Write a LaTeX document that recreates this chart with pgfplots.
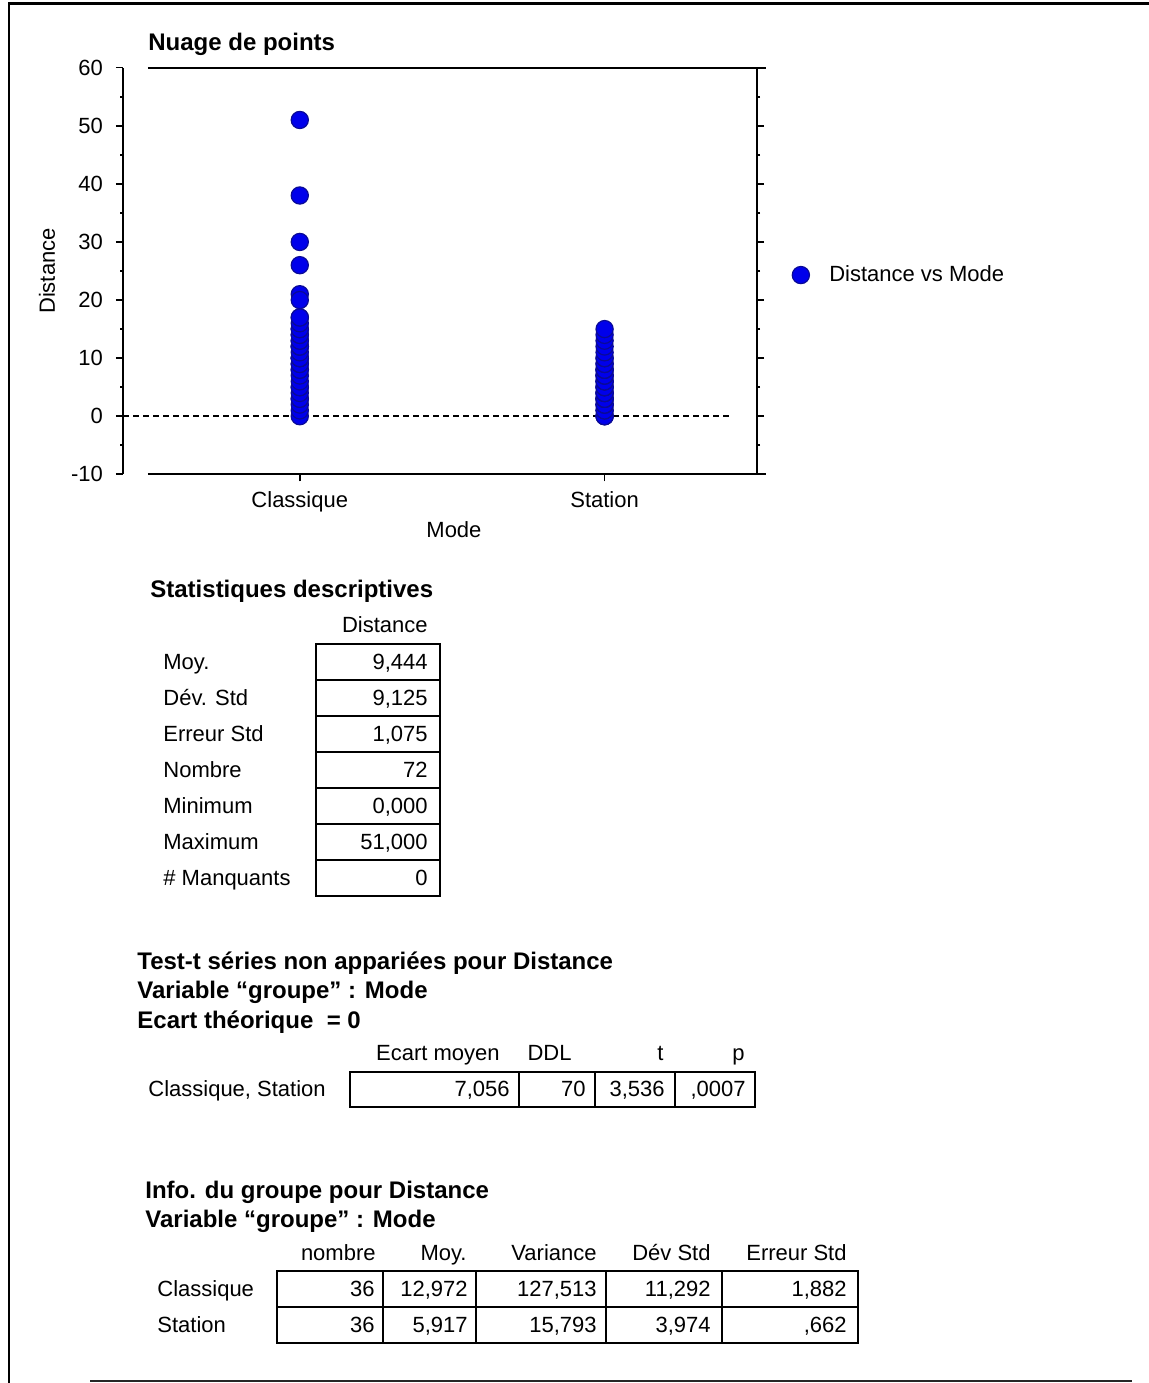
\documentclass[border=0pt]{standalone}
\usepackage{fontspec}
\setmainfont{Liberation Sans}
\usepackage{pgfplots}
\pgfplotsset{compat=1.18}
\definecolor{dotfill}{RGB}{0,0,235}
\definecolor{dotdraw}{RGB}{10,10,150}
\newcommand{\rgf}{\fontsize{11}{13}\selectfont}
\newcommand{\hdf}{\bfseries\fontsize{12}{14}\selectfont}
\pgfplotsset{dotlegend/.style={legend image code/.code={\draw[##1] plot coordinates {(0pt,0pt)}; \path (-4pt,0pt) (12pt,0pt);}}}
\begin{document}
\begin{tikzpicture}
\path[use as bounding box] (0,0) rectangle (574.5pt,691.5pt);
\begin{axis}[
  at={(61.5pt,454.35pt)}, anchor=south west,
  scale only axis, width=317pt, height=203.3pt,
  xmin=-0.58, xmax=1.5, ymin=-10, ymax=60,
  clip=false,
  separate axis lines,
  x axis line style={draw=none},
  y axis line style={black, line width=1pt},
  xtick={0,1}, xticklabels={Classique,Station},
  ytick={-10,0,...,60}, minor ytick={-5,5,...,55},
  tick align=outside,
  ytick pos=both, yticklabel pos=left,
  xtick pos=bottom,
  major tick length=3.5pt, minor tick length=1.5pt,
  tick style={black, line width=0.8pt},
  /pgf/number format/assume math mode=true,
  ticklabel style={font=\rgf},
  yticklabel style={xshift=-3pt},
  xticklabel style={yshift=-1.5pt},
  xlabel={Mode}, ylabel={Distance},
  every axis x label/.style={at={(axis description cs:0.522,-0.137)}, anchor=center, font=\rgf},
  every axis y label/.style={at={(axis description cs:-0.12,0.5)}, rotate=90, anchor=center, font=\rgf},
  legend style={draw=none, fill=none, inner sep=0pt, at={(axis description cs:1.055,0.490)}, anchor=west, font=\rgf},
  dotlegend,
]
\addplot[black, dashed, dash pattern=on 3pt off 2pt, line width=0.8pt, forget plot] coordinates {(-0.58,0) (1.41,0)};
\addplot[only marks, mark=*, mark size=4.3pt, mark options={fill=dotfill, draw=dotdraw, line width=0.6pt}]
 table[row sep=\\] {
 x y\\
 0 51\\ 0 38\\ 0 30\\ 0 26\\ 0 21\\ 0 20\\
 0 0\\ 0 1\\ 0 2\\ 0 3\\ 0 3\\ 0 4\\ 0 5\\ 0 5\\ 0 6\\ 0 7\\
 0 8\\ 0 8\\ 0 9\\ 0 9\\ 0 10\\ 0 10\\ 0 10\\ 0 11\\ 0 12\\ 0 12\\
 0 12\\ 0 13\\ 0 13\\ 0 14\\ 0 14\\ 0 15\\ 0 15\\ 0 16\\ 0 17\\ 0 17\\
 1 0\\ 1 0\\ 1 0\\ 1 1\\ 1 1\\ 1 2\\ 1 2\\ 1 2\\ 1 3\\ 1 3\\
 1 3\\ 1 3\\ 1 4\\ 1 4\\ 1 4\\ 1 5\\ 1 5\\ 1 5\\ 1 6\\ 1 6\\
 1 6\\ 1 7\\ 1 7\\ 1 7\\ 1 8\\ 1 8\\ 1 8\\ 1 9\\ 1 9\\ 1 10\\
 1 10\\ 1 11\\ 1 12\\ 1 13\\ 1 14\\ 1 15\\
 };
\addlegendentry{Distance vs Mode}
\draw[black, line width=1pt] (axis cs:-0.498,60) -- (axis cs:1.528,60);
\draw[black, line width=1pt] (axis cs:-0.498,-10) -- (axis cs:1.528,-10);
\end{axis}
\begin{scope}[shift={(0,691.5pt)}, x=0.5pt, y=-0.5pt]
% frame
\draw[line width=1.5pt] (8,4) -- (1149,4);
\draw[line width=1pt] (9,3) -- (9,1383);
\draw[line width=1pt, black!85] (90,1381) -- (1132,1381);
% plot title
\node[anchor=base west, inner sep=0, font=\hdf] at (148,51) {Nuage de points};
% Table 1
\node[anchor=base west, inner sep=0, font=\hdf] at (150,598) {Statistiques descriptives};
\node[anchor=base east, inner sep=0, font=\rgf] at (428,633) {Distance};
\draw[line width=0.7pt] (316,644) rectangle (440,896);
\foreach \yy in {680,716,752,788,824,860} \draw[line width=0.7pt] (316,\yy) -- (440,\yy);
\foreach \lab/\val/\yy in {Moy./{9,444}/670, Dév. Std/{9,125}/706, Erreur Std/{1,075}/742, Nombre/72/778, Minimum/{0,000}/814, Maximum/{51,000}/850, \# Manquants/0/886}{
  \node[anchor=base west, inner sep=0, font=\rgf] at (163,\yy) {\lab};
  \node[anchor=base east, inner sep=0, font=\rgf] at (428,\yy) {\val};
}
% Table 2
\node[anchor=base west, inner sep=0, font=\hdf] at (137,970) {Test-t séries non appariées pour Distance};
\node[anchor=base west, inner sep=0, font=\hdf] at (137,999) {Variable “groupe” : Mode};
\node[anchor=base west, inner sep=0, font=\hdf] at (137,1029) {Ecart théorique \ = 0};
\node[anchor=base east, inner sep=0, font=\rgf] at (500,1061) {Ecart moyen};
\node[anchor=base east, inner sep=0, font=\rgf] at (572,1061) {DDL};
\node[anchor=base east, inner sep=0, font=\rgf] at (664,1061) {t};
\node[anchor=base east, inner sep=0, font=\rgf] at (745,1061) {p};
\draw[line width=0.7pt] (350,1072) rectangle (755,1107);
\foreach \xx in {519,595,675} \draw[line width=0.7pt] (\xx,1072) -- (\xx,1107);
\node[anchor=base west, inner sep=0, font=\rgf] at (148,1097) {Classique, Station};
\node[anchor=base east, inner sep=0, font=\rgf] at (510,1097) {7,056};
\node[anchor=base east, inner sep=0, font=\rgf] at (586,1097) {70};
\node[anchor=base east, inner sep=0, font=\rgf] at (665,1097) {3,536};
\node[anchor=base east, inner sep=0, font=\rgf] at (746,1097) {,0007};
% Table 3
\node[anchor=base west, inner sep=0, font=\hdf] at (145,1199) {Info. du groupe pour Distance};
\node[anchor=base west, inner sep=0, font=\hdf] at (145,1228) {Variable “groupe” : Mode};
\foreach \lab/\xx in {nombre/376, Moy./467, Variance/597, Dév Std/711, Erreur Std/847}
  \node[anchor=base east, inner sep=0, font=\rgf] at (\xx,1261) {\lab};
\draw[line width=0.7pt] (277,1271) rectangle (858,1343);
\draw[line width=0.7pt] (277,1307) -- (858,1307);
\foreach \xx in {383,476,606,722} \draw[line width=0.7pt] (\xx,1271) -- (\xx,1343);
\node[anchor=base west, inner sep=0, font=\rgf] at (157,1297) {Classique};
\node[anchor=base west, inner sep=0, font=\rgf] at (157,1333) {Station};
\foreach \val/\xx in {36/375, {12,972}/468, {127,513}/597, {11,292}/711, {1,882}/847}
  \node[anchor=base east, inner sep=0, font=\rgf] at (\xx,1297) {\val};
\foreach \val/\xx in {36/375, {5,917}/468, {15,793}/597, {3,974}/711, {,662}/847}
  \node[anchor=base east, inner sep=0, font=\rgf] at (\xx,1333) {\val};
\end{scope}
\end{tikzpicture}
\end{document}
